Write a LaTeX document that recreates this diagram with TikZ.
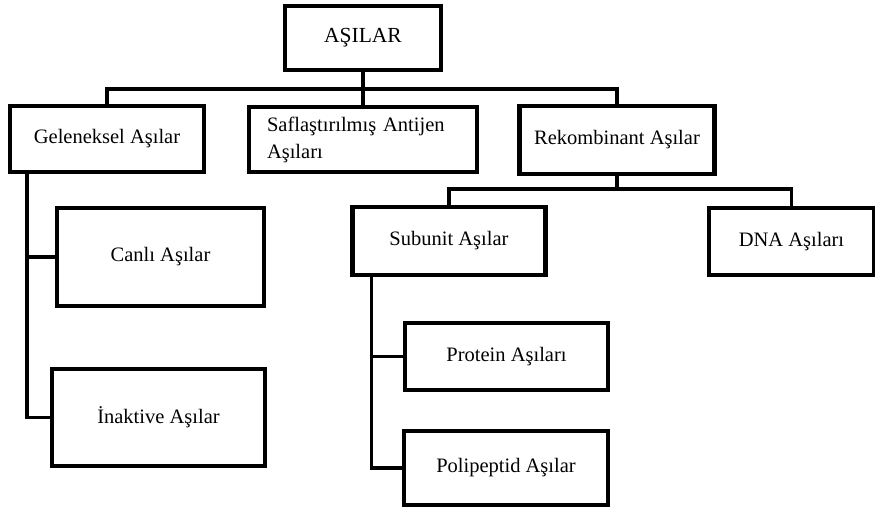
\documentclass[tikz,border=0pt]{standalone}
\usepackage{fontspec}
\setmainfont{Liberation Serif}
\begin{document}
\begin{tikzpicture}[x=1pt,y=-1pt,
  box/.style={draw=black, line width=4.5pt, rectangle, inner sep=0pt, font=\fontsize{20.5}{27}\selectfont, text=black},
  conn/.style={draw=black, line width=3.5pt}]
\useasboundingbox (0,0) rectangle (875,514);
% boxes (centre, width, height)
\node[box, minimum width=156pt, minimum height=64pt, font=\fontsize{21.5}{27}\selectfont] (asilar) at (363,38) {AŞILAR};
\node[box, minimum width=194pt, minimum height=66pt] (gel) at (107,139) {Geleneksel Aşılar};
\node[box, minimum width=228pt, minimum height=65pt, text width=192pt, align=left] (saf) at (363,139.5) {Saflaştırılmış Antijen\\Aşıları};
\node[box, minimum width=195pt, minimum height=68pt] (rek) at (617,140) {Rekombinant Aşılar};
\node[box, minimum width=193pt, minimum height=68pt] (sub) at (449,241) {Subunit Aşılar};
\node[box, minimum width=165pt, minimum height=67pt] (dna) at (791.5,241.5) {DNA Aşıları};
\node[box, minimum width=207pt, minimum height=98pt] (canli) at (160.5,257) {Canlı Aşılar};
\node[box, minimum width=213pt, minimum height=97pt] (inak) at (158.5,417.5) {İnaktive Aşılar};
\node[box, minimum width=203pt, minimum height=67pt] (prot) at (506.5,356.5) {Protein Aşıları};
\node[box, minimum width=204pt, minimum height=74pt] (poli) at (506,468) {Polipeptid Aşılar};
% connectors
\coordinate (top) at (363,89);
\coordinate (mid) at (617,189);
\draw[conn] (asilar.south) -- (top);
\draw[conn] (gel.north) |- (top) -| (rek.north);
\draw[conn] (top) -- (saf.north);
\draw[conn] (rek.south) -- (mid);
\draw[conn] (sub.north) |- (mid) -| (dna.north);
\draw[conn] ([xshift=19pt]gel.south west) |- (canli.west);
\draw[conn] ([xshift=19pt]gel.south west) |- (inak.west);
\draw[conn] ([xshift=21pt]sub.south west) |- (prot.west);
\draw[conn] ([xshift=21pt]sub.south west) |- (poli.west);
\end{tikzpicture}
\end{document}
